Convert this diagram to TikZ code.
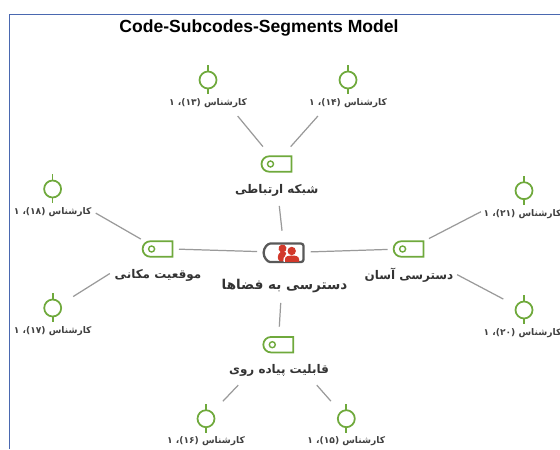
\documentclass[tikz,border=0pt]{standalone}
\usepackage{fontspec}
\usepackage{tikz}
\usetikzlibrary{calc,shapes.misc}
\setsansfont{Liberation Sans}
\newfontfamily\farsifont[Script=Arabic]{DejaVu Sans}
\TeXXeTstate=1
\definecolor{memogreen}{HTML}{6FA93C}
\definecolor{linkgray}{HTML}{9A9A9A}
\definecolor{framblue}{HTML}{4A68B0}
\definecolor{groupred}{HTML}{D2392B}
\newcommand{\fa}[1]{{\farsifont\bfseries\beginR #1\endR}}
\newcommand{\expert}[1]{\fa{کارشناس (\beginL #1\endL)، \beginL ۱\endL}}

\begin{document}
\begin{tikzpicture}[x=0.02cm,y=0.02cm]
    \tikzstyle{every node}=[inner sep=0pt, outer sep=0pt]
    \tikzstyle{codetag}=[draw=memogreen, line width=1pt, rounded rectangle, rounded rectangle east arc=none,
        minimum width=0.6cm, minimum height=0.31cm,
        path picture={\draw[memogreen, line width=0.8pt] ($(path picture bounding box.center)+(-6,0)$) circle (0.06cm);}]
    \tikzstyle{memo}=[draw=memogreen, line width=1pt, circle, minimum size=0.34cm,
        append after command={\pgfextra{\draw[memogreen, line width=1pt] (\tikzlastnode.north) -- ++(0,6) (\tikzlastnode.south) -- ++(0,-6);}}]
    \tikzstyle{expertlabel}=[font=\fontsize{5.2}{6}\selectfont, text=black!75, minimum height=0.26cm]
    \tikzstyle{codelabel}=[font=\fontsize{6.8}{8}\selectfont, text=black!80, minimum height=0.32cm]
    \tikzstyle{link}=[draw=linkgray, line width=0.7pt]

    \useasboundingbox (0,0) rectangle (560,449);
    \draw[framblue, line width=0.7pt] (9.5,0) -- (9.5,434.5) -- (560,434.5);
    \node[font=\sffamily\bfseries\fontsize{10}{11}\selectfont] (title) at (259,420.5) {Code-Subcodes-Segments Model};

    % middle
    \node[draw=black!65, line width=1.3pt, rounded rectangle, rounded rectangle east arc=none, rounded corners=1.5pt, minimum width=0.8cm, minimum height=0.37cm] (c0) at (283.6,196.2) {};
    \fill[groupred] (278,190) .. controls (277.5,194) and (279,196) .. (280.5,197) arc (-120:240:4) .. controls (287,197) .. (285,193) -- (283,187.5) -- (280,187.5) -- cycle;
    \fill[white] (291.7,198) circle (5.5);
    \fill[white] (283.5,187) -- (283.5,191) -- (288,195) -- (296,195) -- (296,187) -- cycle;
    \fill[groupred] (291.7,198) circle (4.2);
    \fill[groupred] (285,187) -- (285,190) .. controls (285,193) and (289,193.5) .. (291.7,193.5) .. controls (295,193.5) and (299,193) .. (299,190) -- (299,187) -- cycle;
    \node[codelabel, font=\fontsize{7.7}{9}\selectfont] (t0) at (284.5,163.3) {\fa{دسترسی به فضاها}};

    % codes
    \node[codetag] (c1) at (276.5,285) {};
    \node[codelabel] (t1) at (276.7,259) {\fa{شبکه ارتباطی}};
    \node[codetag] (c2) at ($(c0)+(-126,3.8)$) {};
    \node[codelabel] (t2) at (158,174) {\fa{موقعیت مکانی}};
    \node[codetag] (c3) at ($(c0)+(125,3.8)$) {};
    \node[codelabel] (t3) at (409,174) {\fa{دسترسی آسان}};
    \node[codetag] (c4) at (278.3,104.3) {};
    \node[codelabel] (t4) at (279,78.3) {\fa{قابلیت پیاده روی}};

    % segments
    \node[memo] (13) at ($(c1)+(-68.5,84)$) {};
    \node[expertlabel] (t13) at ($(13)+(0,-23)$) {\expert{۱۳}};
    \node[memo] (14) at ($(c1)+(71.5,84)$) {};
    \node[expertlabel] (t14) at ($(14)+(0,-23)$) {\expert{۱۴}};
    \node[memo] (18) at ($(c2)+(-105,60)$) {};
    \node[expertlabel] (t18) at ($(18)+(0,-23)$) {\expert{۱۸}};
    \node[memo] (17) at (52.7,141) {};
    \node[expertlabel] (t17) at ($(17)+(0,-23)$) {\expert{۱۷}};
    \node[memo] (21) at (524,258.3) {};
    \node[expertlabel] (t21) at ($(21)+(-1.5,-23)$) {\expert{۲۱}};
    \node[memo] (20) at (524,139) {};
    \node[expertlabel] (t20) at ($(20)+(-1.5,-23)$) {\expert{۲۰}};
    \node[memo] (16) at (206,30.3) {};
    \node[expertlabel] (t16) at ($(16)+(0,-22)$) {\expert{۱۶}};
    \node[memo] (15) at (346.3,30.3) {};
    \node[expertlabel] (t15) at ($(15)+(0,-22)$) {\expert{۱۵}};

    \draw[link, shorten <=0.17cm, shorten >=0.25cm] (t13.-15.7) to (c1.126.3);
    \draw[link, shorten <=0.175cm, shorten >=0.257cm] (t14.195.2) to (c1.54.1);
    \draw[link, shorten <=0.16cm, shorten >=0.258cm] (t1.-78) to (c0.91);
    \draw[link, shorten <=0.1cm, shorten >=0.13cm] (t18.2.2) to (c2.149.8);
    \draw[link, shorten <=0.116cm, shorten >=0.3cm] (t2.174.4) to (17.24.3);
    \draw[link, shorten <=0.128cm, shorten >=0.132cm] (c2.-0.8) to (c0.177.4);
    \draw[link, shorten <=0.142cm, shorten >=0.118cm] (c0.2.3) to (c3.181);
    \draw[link, shorten <=0.12cm, shorten >=0.063cm] (c3.27) to (t21.175);
    \draw[link, shorten <=0.084cm, shorten >=0.298cm] (t3.3.9) to (20.152);
    \draw[link, shorten <=0.186cm, shorten >=0.205cm] (t0.-112.4) to (c4.87);
    \draw[link, shorten <=0.176cm, shorten >=0.316cm] (t4.193.3) to (16.45.7);
    \draw[link, shorten <=0.171cm, shorten >=0.298cm] (t4.-14.5) to (15.131.9);
\end{tikzpicture}
\end{document}
